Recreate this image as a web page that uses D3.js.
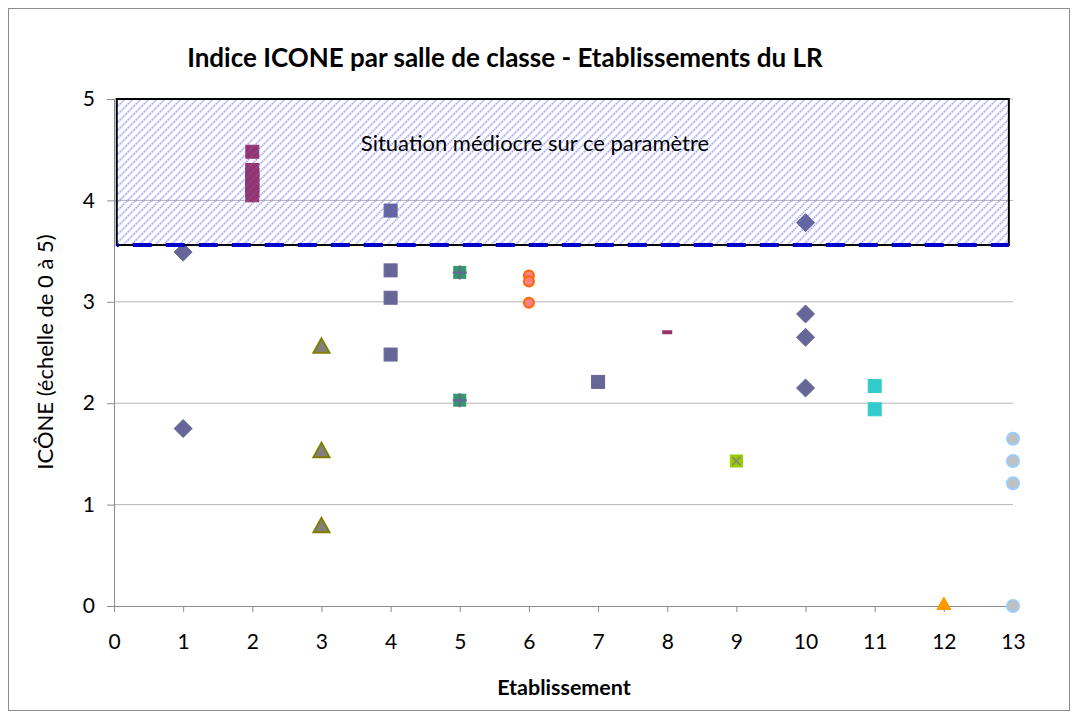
<!DOCTYPE html>
<html>
<head>
<meta charset="utf-8">
<script src="https://cdn.jsdelivr.net/npm/d3@7"></script>
<style>
  body { margin: 0; background: #fff; }
  text { font-family: Lato, "Open Sans", sans-serif; fill: #000; }
</style>
</head>
<body>
<div id="container"></div>
<script>
// data
const etab = [1, 2, 3, 4, 5, 6, 7, 8, 9, 10, 11, 12, 13];
const icone = [
  [3.49, 1.75],
  [4.48, 4.30, 4.25, 4.20, 4.15, 4.10, 4.05],
  [2.56, 1.53, 0.79],
  [3.90, 3.31, 3.04, 2.48],
  [3.29, 2.03],
  [3.26, 3.20, 2.99],
  [2.21],
  [2.70],
  [1.43],
  [3.78, 2.88, 2.65, 2.15],
  [2.17, 1.94],
  [0.02],
  [1.65, 1.43, 1.21, 0.0]
];
const markerShape = ['diamond', 'square', 'triangle', 'square', 'squarePlus', 'circle', 'square', 'dash', 'squareX', 'diamond', 'square', 'triangle', 'circle'];
const markerFill = ['#666699', '#993366', '#808080', '#666699', '#339966', '#ff8080', '#666699', '#993366', '#99cc00', '#666699', '#33cccc', '#ff9900', '#c0c0c0'];
const markerStroke = ['#666699', '#993366', '#808000', '#666699', '#666699', '#ff6600', '#666699', '#993366', '#808080', '#666699', '#33cccc', '#ff9900', '#99ccff'];
const xTicks = [0, 1, 2, 3, 4, 5, 6, 7, 8, 9, 10, 11, 12, 13];
const yTicks = [0, 1, 2, 3, 4, 5];
const seuil = 3.56;
const zoneX = [0.04, 12.94];

const width = 1077, height = 717;
const margin = { left: 114, right: 64, top: 99, bottom: 111 };

const svg = d3.select('#container').append('svg')
  .attr('width', width).attr('height', height);

const defs = svg.append('defs');
const pat = defs.append('pattern')
  .attr('id', 'hatch')
  .attr('patternUnits', 'userSpaceOnUse')
  .attr('width', 8).attr('height', 8);
pat.append('path')
  .attr('d', 'M0,8 L8,0 M-2,2 L2,-2 M6,10 L10,6')
  .attr('stroke', '#5a5aff')
  .attr('stroke-width', 1.5)
  .attr('stroke-opacity', 0.6)
  .attr('stroke-dasharray', '1.5,0.7');

// outer frame
svg.append('rect')
  .attr('x', 8.5).attr('y', 8.5)
  .attr('width', 1061).attr('height', 702)
  .attr('fill', 'none').attr('stroke', '#8c8c8c').attr('stroke-width', 1);

const x = d3.scaleLinear().domain([0, 13]).range([margin.left, width - margin.right]);
const y = d3.scaleLinear().domain([0, 5]).range([height - margin.bottom, margin.top]);

// grid
svg.append('g').selectAll('line')
  .data(yTicks.filter(d => d > 0))
  .join('line')
  .attr('x1', x(0)).attr('x2', x(13))
  .attr('y1', d => y(d)).attr('y2', d => y(d))
  .attr('stroke', '#b4b4b4').attr('stroke-width', 1);

// axes
const xAxis = d3.axisBottom(x).tickValues(xTicks).tickSize(6).tickPadding(22).tickFormat(d3.format('d'));
const yAxis = d3.axisLeft(y).tickValues(yTicks).tickSize(7).tickPadding(12).tickFormat(d3.format('d'));

const gx = svg.append('g').attr('transform', `translate(0,${y(0)})`).call(xAxis);
const gy = svg.append('g').attr('transform', `translate(${x(0)},0)`).call(yAxis);
[gx, gy].forEach(g => {
  g.select('.domain').attr('stroke', '#8c8c8c');
  g.selectAll('.tick line').attr('stroke', '#8c8c8c');
  g.selectAll('.tick text').attr('font-size', 21).attr('font-family', 'Lato, sans-serif').attr('fill', '#000');
});

// points
const pts = [];
etab.forEach((e, i) => icone[i].forEach(v => pts.push({ e, v, i })));

const g = svg.append('g');
pts.forEach(p => {
  const cx = x(p.e), cy = y(p.v);
  const shape = markerShape[p.i], fill = markerFill[p.i], stroke = markerStroke[p.i];
  if (shape === 'diamond') {
    g.append('path').attr('d', `M${cx},${cy - 9}L${cx + 9},${cy}L${cx},${cy + 9}L${cx - 9},${cy}Z`)
      .attr('fill', fill).attr('stroke', stroke);
  } else if (shape === 'square' || shape === 'squarePlus' || shape === 'squareX') {
    const s = shape === 'square' ? 13 : 12;
    g.append('rect').attr('x', cx - s / 2).attr('y', cy - s / 2).attr('width', s).attr('height', s)
      .attr('fill', fill).attr('stroke', shape === 'square' ? stroke : fill).attr('stroke-width', 1);
    if (shape === 'squarePlus') {
      g.append('path').attr('d', `M${cx - 7},${cy}H${cx + 7}M${cx},${cy - 7}V${cy + 7}`)
        .attr('stroke', stroke).attr('stroke-width', 2);
    }
    if (shape === 'squareX') {
      g.append('path').attr('d', `M${cx - 4},${cy - 4}L${cx + 4},${cy + 4}M${cx + 4},${cy - 4}L${cx - 4},${cy + 4}`)
        .attr('stroke', stroke).attr('stroke-width', 1.5);
    }
  } else if (shape === 'triangle') {
    const big = p.i === 2;
    const h = big ? 8 : 7;
    g.append('path').attr('d', `M${cx},${cy - h}L${cx + h},${cy + h * 0.8}L${cx - h},${cy + h * 0.8}Z`)
      .attr('fill', fill).attr('stroke', stroke).attr('stroke-width', big ? 2 : 1);
  } else if (shape === 'circle') {
    g.append('circle').attr('cx', cx).attr('cy', cy).attr('r', p.i === 5 ? 5 : 6)
      .attr('fill', fill).attr('stroke', stroke).attr('stroke-width', 2);
  } else if (shape === 'dash') {
    g.append('rect').attr('x', cx - 5).attr('y', cy - 2).attr('width', 10).attr('height', 4)
      .attr('fill', fill);
  }
});

// hatched zone "situation médiocre"
svg.append('rect')
  .attr('x', x(zoneX[0])).attr('y', y(5))
  .attr('width', x(zoneX[1]) - x(zoneX[0])).attr('height', y(seuil) - y(5))
  .attr('fill', 'url(#hatch)')
  .attr('stroke', '#000').attr('stroke-width', 2);

svg.append('line')
  .attr('x1', x(zoneX[0])).attr('x2', x(zoneX[1]))
  .attr('y1', y(seuil)).attr('y2', y(seuil))
  .attr('stroke', '#0000cc').attr('stroke-width', 4)
  .attr('stroke-dasharray', '19,14').attr('stroke-dashoffset', -16);

svg.append('text')
  .attr('x', 535).attr('y', 151)
  .attr('text-anchor', 'middle').attr('font-size', 22)
  .text('Situation médiocre sur ce paramètre');

// titles
svg.append('text')
  .attr('x', 505).attr('y', 67)
  .attr('text-anchor', 'middle').attr('font-size', 26).attr('font-weight', 'bold')
  .text('Indice ICONE par salle de classe - Etablissements du LR');

svg.append('text')
  .attr('x', 564).attr('y', 695)
  .attr('text-anchor', 'middle').attr('font-size', 21.5).attr('font-weight', 'bold')
  .text('Etablissement');

svg.append('text')
  .attr('transform', `translate(53,352) rotate(-90)`)
  .attr('text-anchor', 'middle').attr('font-size', 22)
  .text('ICÔNE (échelle de 0 à 5)');
</script>
</body>
</html>
